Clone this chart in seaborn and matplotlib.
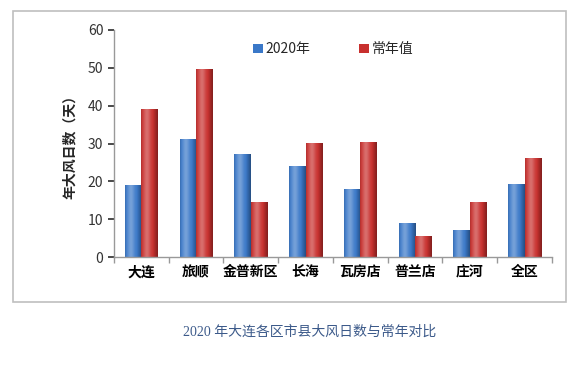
import numpy as np
import pandas as pd
import matplotlib.pyplot as plt
import seaborn as sns
from matplotlib.patches import Rectangle

# data
regions = ["大连", "旅顺", "金普新区", "长海", "瓦房店", "普兰店", "庄河", "全区"]
days_2020 = [19.0, 31.0, 27.2, 23.9, 17.9, 8.9, 7.0, 19.2]
days_normal = [39.1, 49.6, 14.5, 30.1, 30.3, 5.4, 14.5, 26.1]
series_names = ["2020年", "常年值"]

sns.set_theme(style="white")
plt.rcParams['font.family'] = ['Noto Sans CJK SC', 'DejaVu Sans']

df = pd.DataFrame({
    "region": regions * 2,
    "days": days_2020 + days_normal,
    "series": [series_names[0]] * len(regions) + [series_names[1]] * len(regions),
})

fig = plt.figure(figsize=(5.75, 3.69), dpi=100)
ax = fig.add_axes([0.198, 0.3035, 0.762, 0.6152])

# -------------------------------
# bars
# -------------------------------
sns.barplot(data=df, x="region", y="days", hue="series",
            palette=["#3a78c8", "#c8302e"], width=0.6, saturation=1,
            edgecolor="none", ax=ax)

# cylinder-like shading on each bar
t = np.linspace(0, 1, 64)
light = np.exp(-((t - 0.35) / 0.22) ** 2)
dark = np.clip((np.abs(t - 0.4) - 0.3) / 0.3, 0, 1)
for p in ax.patches:
    if p.get_height() <= 0:
        continue
    base = np.array(p.get_facecolor()[:3])
    cols = base[None, :] * (1 - 0.35 * dark[:, None])
    cols = cols + (1 - cols) * (0.3 * light[:, None])
    x0, w, h = p.get_x(), p.get_width(), p.get_height()
    ax.imshow(cols[None, :, :], extent=[x0, x0 + w, 0, h], aspect="auto",
              interpolation="bilinear", zorder=p.get_zorder() + 0.1)

ax.set_ylim(0, 60)
ax.set_yticks(range(0, 61, 10))
ax.set_xlim(-0.5, len(regions) - 0.5)
ax.set_xlabel("")
ax.set_ylabel("年大风日数（天）", fontsize=10, fontweight="bold", labelpad=8)

for lab in ax.get_xticklabels():
    lab.set_fontweight("bold")
    lab.set_fontsize(10)
ax.tick_params(axis="x", length=0, pad=6, colors="black")
ax.tick_params(axis="y", labelsize=10, length=4, direction="out", left=True, colors="#333333")
ax.set_xticks([i + 0.5 for i in range(-1, len(regions))], minor=True)
ax.tick_params(axis="x", which="minor", length=4, direction="out", bottom=True, color="#999999")

for s in ["top", "right"]:
    ax.spines[s].set_visible(False)
for s in ["left", "bottom"]:
    ax.spines[s].set_color("#999999")
    ax.spines[s].set_linewidth(1.0)

leg = ax.legend(loc="upper center", bbox_to_anchor=(0.5, 1.0), ncol=2, frameon=False,
                fontsize=10, handlelength=0.7, handleheight=0.7, handletextpad=0.2,
                columnspacing=3.5)

# outer border
fig.patches.append(Rectangle((13 / 575, 1 - 302 / 369), 553 / 575, 291 / 369,
                             transform=fig.transFigure, fill=False,
                             edgecolor="#bfbfbf", linewidth=1.2))

fig.text(0.539, 1 - 332 / 369, "2020 年大连各区市县大风日数与常年对比",
         ha="center", va="center", fontsize=10, color="#3c5a8a",
         family=["Liberation Serif", "Noto Sans CJK SC"])

plt.savefig("out.png", dpi=100)
plt.close()
